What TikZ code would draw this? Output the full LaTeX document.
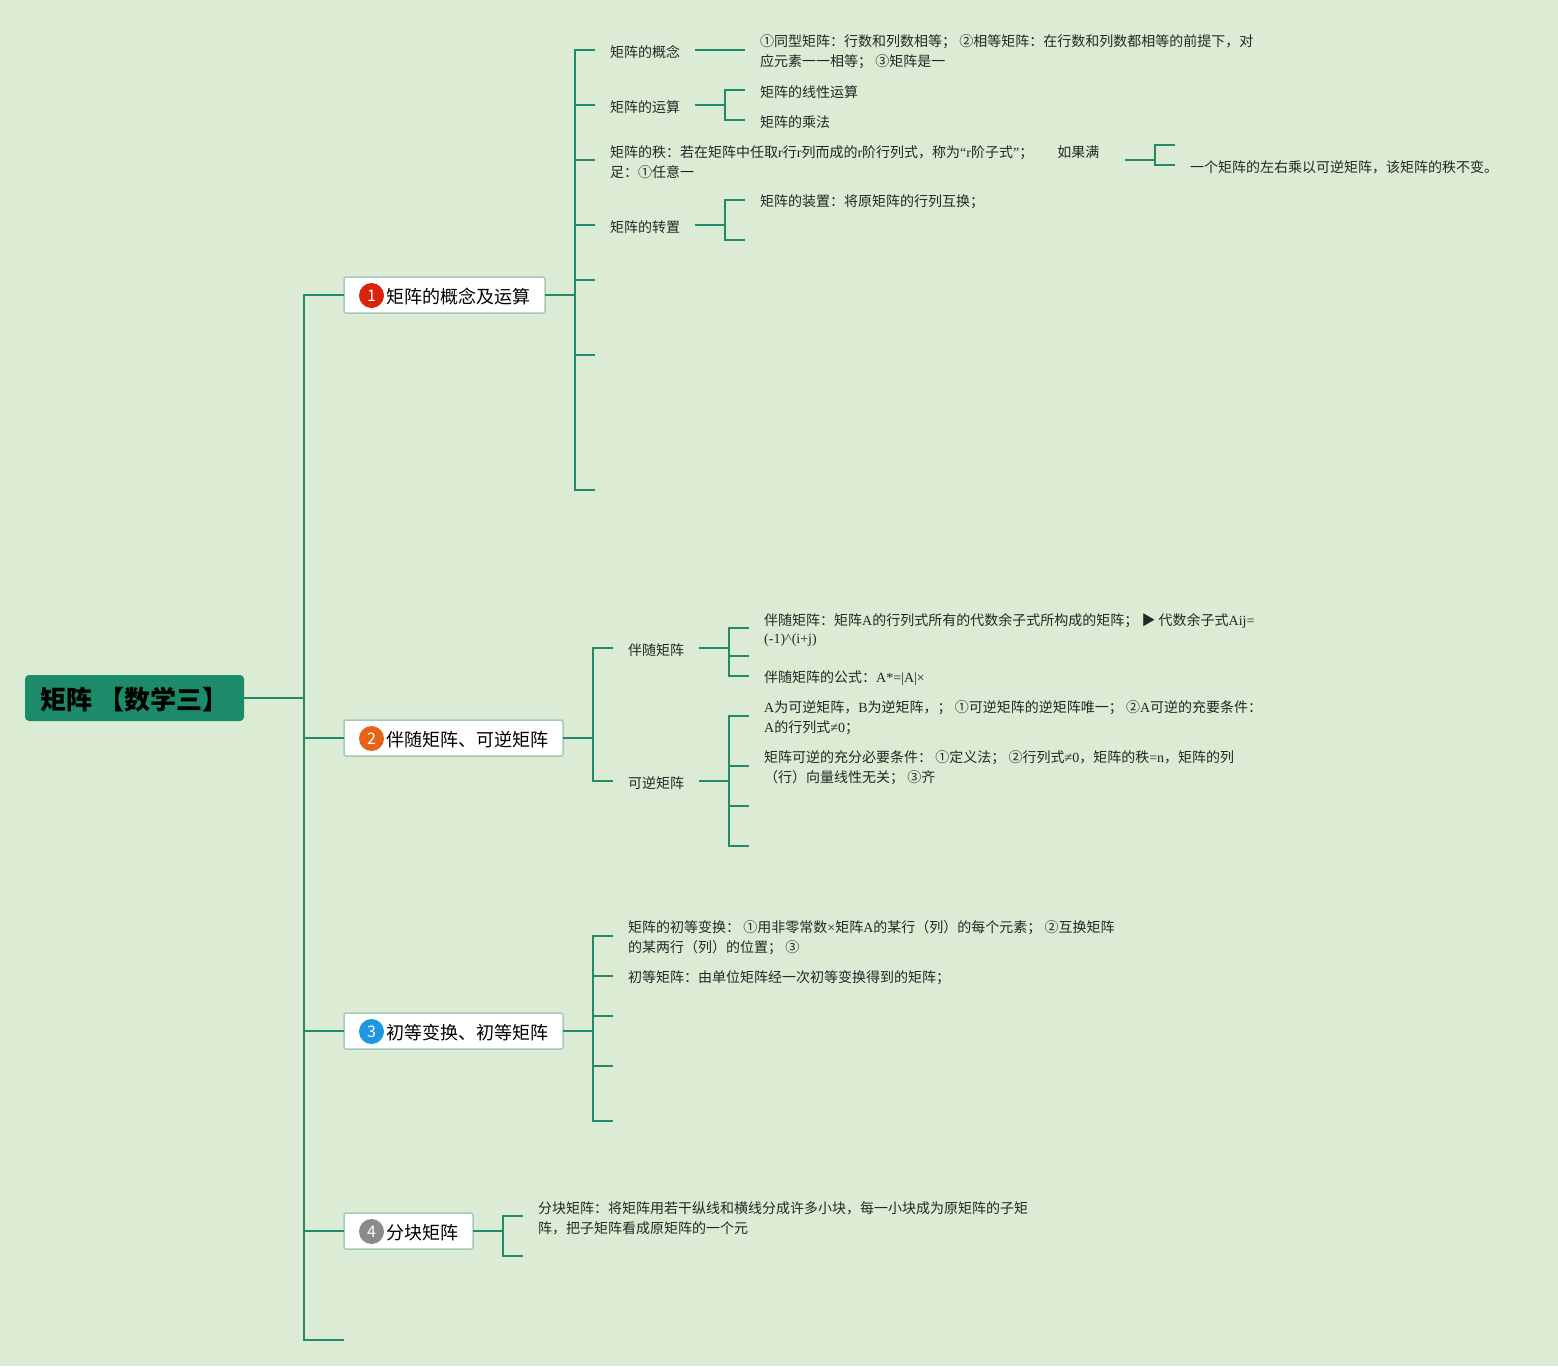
\documentclass[tikz,border=0pt]{standalone}
\usepackage{fontspec}
\setmainfont{Noto Sans CJK SC}
\newfontfamily\latn{Liberation Serif}
\usepackage{tikz}
\newcommand{\La}[1]{{\latn #1}}
\definecolor{paper}{HTML}{DCEBD3}
\definecolor{line}{HTML}{23896B}
\definecolor{rootfill}{HTML}{1B8B69}
\definecolor{boxline}{HTML}{A5C9B9}
\definecolor{iconred}{HTML}{D9230F}
\definecolor{iconorange}{HTML}{E5641A}
\definecolor{iconblue}{HTML}{1E96E0}
\definecolor{icongrey}{HTML}{8A8A8A}
\tikzset{
  branch/.style = {line, line width=2pt},
  rootbox/.style = {anchor=west, fill=rootfill, rounded corners=4pt, inner xsep=15pt, outer sep=0pt, minimum width=219pt, minimum height=46pt, align=left, font=\fontsize{26}{30}\selectfont\bfseries, execute at begin node={\rule{0pt}{25.5pt}}},
  topic/.style = {anchor=west, fill=white, draw=boxline, line width=1.5pt, rounded corners=2pt, inner xsep=15pt, outer sep=0pt, minimum height=36pt, font=\fontsize{18}{22}\selectfont, execute at begin node={\rule{0pt}{18.5pt}}},
  icon/.style = {circle, inner sep=0pt, minimum size=25pt, text=white, font=\fontsize{16}{18}\selectfont},
  item/.style = {anchor=west, align=left, inner xsep=15pt, inner ysep=0pt, text=black!85, font=\fontsize{14}{20}\selectfont, execute at begin node={\rule{0pt}{15.5pt}}},
  longitem/.style = {anchor=west, align=left, inner xsep=15pt, inner ysep=0pt, text=black!85, font=\fontsize{14}{20}\selectfont, text width=500pt, execute at begin node={\spaceskip=3.2pt\relax\rule{0pt}{15.5pt}}}
}
\begin{document}
\begin{tikzpicture}[x=1pt, y=-1pt]
  \fill [paper] (0, 0) rectangle (1558, 1366);
  \useasboundingbox (0, 0) rectangle (1558, 1366);
  \node (R) [rootbox] at (25, 698) {矩阵 【数学三】};
  \coordinate (JR) at (304, 698);
  \node (TA) [topic] at (344, 295) {\hspace*{27pt}矩阵的概念及运算};
  \node (TB) [topic] at (344, 738) {\hspace*{27pt}伴随矩阵、可逆矩阵};
  \node (TC) [topic] at (344, 1031) {\hspace*{27pt}初等变换、初等矩阵};
  \node (TD) [topic] at (344, 1231) {\hspace*{27pt}分块矩阵};
  \coordinate (TE) at (344, 1340);
  \node (IA) [icon, fill=iconred] at (371.5, 295.5) {1};
  \node (IB) [icon, fill=iconorange] at (371.5, 738.5) {2};
  \node (IC) [icon, fill=iconblue] at (371.5, 1031.5) {3};
  \node (ID) [icon, fill=icongrey] at (371.5, 1231.5) {4};
  \draw [branch] (R.east) -- (JR);
  \draw [branch] (JR) |- (TA.west);
  \draw [branch] (JR) |- (TB.west);
  \draw [branch] (JR) |- (TC.west);
  \draw [branch] (JR) |- (TD.west);
  \draw [branch] (JR) |- (TE);
  % first topic
  \coordinate (JA) at (575, 295);
  \node (AA) [item] at (595, 50) {矩阵的概念};
  \node (AB) [item] at (595, 105) {矩阵的运算};
  \node (AC) [longitem] at (595, 160) {矩阵的秩：若在矩阵中任取\La{r}行\La{r}列而成的\La{r}阶行列式，称为\La{“r}阶子式\La{”}；\hspace{24pt}如果满\\足：①任意一};
  \node (AD) [item] at (595, 225) {矩阵的转置};
  \coordinate (AE) at (595, 280);
  \coordinate (AF) at (595, 355);
  \coordinate (AG) at (595, 490);
  \node (AAA) [longitem] at (745, 50) {①同型矩阵：行数和列数相等； ②相等矩阵：在行数和列数都相等的前提下，对\\应元素一一相等； ③矩阵是一};
  \node (ABA) [item] at (745, 90) {矩阵的线性运算};
  \node (ABB) [item] at (745, 120) {矩阵的乘法};
  \coordinate (ACA) at (1175, 145);
  \node (ACB) [item] at (1175, 165) {一个矩阵的左右乘以可逆矩阵，该矩阵的秩不变。};
  \node (ADA) [item] at (745, 200) {矩阵的装置：将原矩阵的行列互换；};
  \coordinate (ADB) at (745, 240);
  \coordinate (JAB) at (725, 105);
  \coordinate (JAC) at (1155, 160);
  \coordinate (JAD) at (725, 225);
  \draw [branch] (TA.east) -- (JA);
  \draw [branch] (JA) |- (AA.west);
  \draw [branch] (JA) |- (AB.west);
  \draw [branch] (JA) |- (AC.west);
  \draw [branch] (JA) |- (AD.west);
  \draw [branch] (JA) |- (AE);
  \draw [branch] (JA) |- (AF);
  \draw [branch] (JA) |- (AG);
  \draw [branch] (AA.east) -- (AAA.west);
  \draw [branch] (AB.east) -- (JAB);
  \draw [branch] (JAB) |- (ABA.west);
  \draw [branch] (JAB) |- (ABB.west);
  \draw [branch] (AC.east) -- (JAC);
  \draw [branch] (JAC) |- (ACA);
  \draw [branch] (JAC) |- (ACB.west);
  \draw [branch] (AD.east) -- (JAD);
  \draw [branch] (JAD) |- (ADA.west);
  \draw [branch] (JAD) |- (ADB);
  % second topic
  \coordinate (JB) at (593, 738);
  \node (BA) [item] at (613, 648) {伴随矩阵};
  \node (BB) [item] at (613, 781) {可逆矩阵};
  \coordinate (JBA) at (729, 648);
  \coordinate (JBB) at (729, 781);
  \node (BAA) [longitem] at (749, 628) {伴随矩阵：矩阵\La{A}的行列式所有的代数余子式所构成的矩阵； ▶ 代数余子式\La{Aij=}\\[-2pt]\La{(-1)\textasciicircum(i+j)}};
  \coordinate (BAB) at (749, 656);
  \node (BAC) [item] at (749, 676) {伴随矩阵的公式：\La{A*=|A|×}};
  \node (BBA) [longitem] at (749, 716) {\La{A}为可逆矩阵，\La{B}为逆矩阵，； ①可逆矩阵的逆矩阵唯一； ②\La{A}可逆的充要条件：\\\La{A}的行列式\La{≠0}；};
  \node (BBB) [longitem] at (749, 766) {矩阵可逆的充分必要条件： ①定义法； ②行列式\La{≠0}，矩阵的秩\La{=n}，矩阵的列\\（行）向量线性无关； ③齐};
  \coordinate (BBC) at (749, 806);
  \coordinate (BBD) at (749, 846);
  \draw [branch] (TB.east) -- (JB);
  \draw [branch] (JB) |- (BA.west);
  \draw [branch] (JB) |- (BB.west);
  \draw [branch] (BA.east) -- (JBA);
  \draw [branch] (JBA) |- (BAA.west);
  \draw [branch] (JBA) |- (BAB);
  \draw [branch] (JBA) |- (BAC.west);
  \draw [branch] (BB.east) -- (JBB);
  \draw [branch] (JBB) |- (BBA.west);
  \draw [branch] (JBB) |- (BBB.west);
  \draw [branch] (JBB) |- (BBC);
  \draw [branch] (JBB) |- (BBD);
  % third topic
  \coordinate (JC) at (593, 1031);
  \node (CA) [longitem] at (613, 936) {矩阵的初等变换： ①用非零常数\La{×}矩阵\La{A}的某行（列）的每个元素； ②互换矩阵\\的某两行（列）的位置； ③};
  \node (CB) [item] at (613, 976) {初等矩阵：由单位矩阵经一次初等变换得到的矩阵；};
  \coordinate (CC) at (613, 1016);
  \coordinate (CD) at (613, 1066);
  \coordinate (CE) at (613, 1121);
  \draw [branch] (TC.east) -- (JC);
  \draw [branch] (JC) |- (CA.west);
  \draw [branch] (JC) |- (CB.west);
  \draw [branch] (JC) |- (CC);
  \draw [branch] (JC) |- (CD);
  \draw [branch] (JC) |- (CE);
  % fourth topic
  \coordinate (JD) at (503, 1231);
  \node (DA) [longitem] at (523, 1216) {分块矩阵：将矩阵用若干纵线和横线分成许多小块，每一小块成为原矩阵的子矩\\阵，把子矩阵看成原矩阵的一个元};
  \coordinate (DB) at (523, 1256);
  \draw [branch] (TD.east) -- (JD);
  \draw [branch] (JD) |- (DA.west);
  \draw [branch] (JD) |- (DB);
\end{tikzpicture}
\end{document}
